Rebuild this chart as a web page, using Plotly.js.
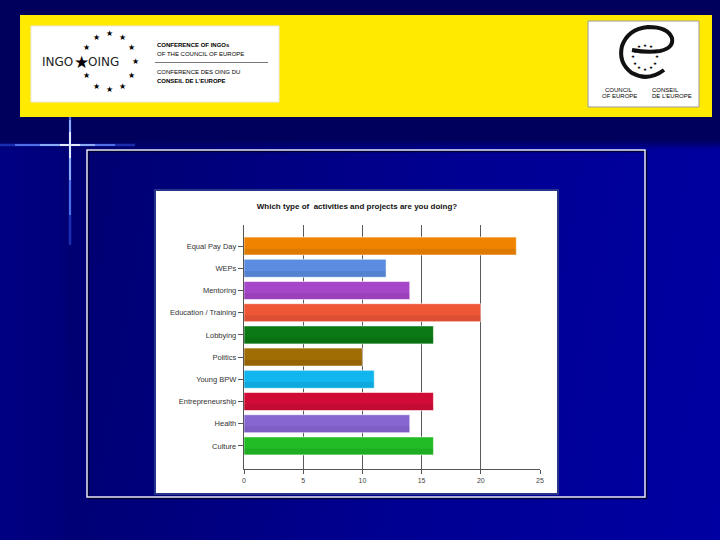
<!DOCTYPE html>
<html>
<head>
<meta charset="utf-8">
<script src="https://cdn.plot.ly/plotly-3.0.1.min.js"></script>
<style>
  html, body { margin: 0; padding: 0; }
  #slide {
    width: 720px; height: 540px; position: relative; overflow: hidden;
    background:
      linear-gradient(to bottom, #00005c 0px, #00005c 140px, rgba(0,0,90,0) 150px),
      linear-gradient(to right, #000084 0px, #00007a 60px, rgba(0,0,0,0) 70px),
      linear-gradient(100deg, #00006a 0%, #000078 25%, #000092 60%, #0000a2 100%);
  }
  #chart { width: 720px; height: 540px; position: absolute; left: 0; top: 0; }
</style>
</head>
<body>
<div id="slide"><div id="chart"></div></div>
<script>
// ---- data ----
const categories = ['Equal Pay Day', 'WEPs', 'Mentoring', 'Education / Training', 'Lobbying',
                    'Politics', 'Young BPW', 'Entrepreneurship', 'Health', 'Culture'];
const counts = [23, 12, 14, 20, 16, 10, 11, 16, 14, 16];
const barColors = ['#f08400', '#5a8ce0', '#a646c8', '#ee5636', '#0b7a14',
                   '#a06c04', '#12b6ee', '#d00c36', '#8866d2', '#22bc24'];
const xTickValues = [0, 5, 10, 15, 20, 25];
const chartTitle = 'Which type of  activities and projects are you doing?';

// ---- helpers: pixel -> paper ----
const W = 720, H = 540;
const px = x => x / W;
const py = y => 1 - y / H;
function rect(x0, y0, x1, y1, fill, line, lw, layer) {
  return {type: 'rect', xref: 'paper', yref: 'paper', x0: px(x0), x1: px(x1), y0: py(y1), y1: py(y0),
          fillcolor: fill, line: {color: line || 'rgba(0,0,0,0)', width: lw || 0}, layer: layer || 'below'};
}
function seg(x0, y0, x1, y1, color, w) {
  return {type: 'line', xref: 'paper', yref: 'paper', x0: px(x0), x1: px(x1), y0: py(y0), y1: py(y1),
          line: {color: color, width: w}, layer: 'below'};
}
function txt(x, y, text, size, opts) {
  opts = opts || {};
  return {xref: 'paper', yref: 'paper', x: px(x), y: py(y), text: text, showarrow: false,
          xanchor: opts.xanchor || 'center', yanchor: 'middle',
          font: {family: opts.family || 'Liberation Sans, Arial, sans-serif', size: size, color: opts.color || '#000'}};
}
function pathPx(cmds) {
  return cmds.map(c => {
    const l = c[0]; const nums = [];
    for (let i = 1; i < c.length; i += 2) nums.push(px(c[i]).toFixed(5) + ',' + py(c[i + 1]).toFixed(5));
    return l + ' ' + nums.join(' ');
  }).join(' ');
}

const shapes = [];
const annotations = [];

// Yellow banner and logo boxes
shapes.push(rect(20, 15, 712, 117, '#ffea00'));
shapes.push(rect(31, 26, 279, 102, '#ffffff', '#e8e8e8', 1));
shapes.push(rect(588, 21, 699, 107, '#ffffff', '#9a9a9a', 1));
shapes.push(seg(155, 62.5, 268, 62.5, '#555555', 0.8));

// Light flare cross
shapes.push(seg(0, 145, 135, 145, 'rgba(60,100,255,0.45)', 2.5));
shapes.push(seg(15, 145, 115, 145, 'rgba(100,140,255,0.7)', 2));
shapes.push(seg(40, 145, 95, 145, 'rgba(170,200,255,0.9)', 1.5));
shapes.push(seg(60, 145, 80, 145, '#ffffff', 1.5));
shapes.push(seg(70, 117, 70, 245, 'rgba(60,100,255,0.45)', 2.5));
shapes.push(seg(70, 117, 70, 215, 'rgba(100,140,255,0.7)', 2));
shapes.push(seg(70, 120, 70, 180, 'rgba(170,200,255,0.9)', 1.5));
shapes.push(seg(70, 132, 70, 158, '#ffffff', 1.5));

// Outer white frame (with dark shadow) and chart panel
shapes.push(rect(88.5, 151.5, 646.5, 498.5, 'rgba(0,0,0,0)', 'rgba(0,0,30,0.8)', 1.5));
shapes.push(rect(87, 150, 645, 497, 'rgba(0,0,0,0)', '#e6e6f0', 1.5));
shapes.push(rect(155, 190, 558, 494, '#ffffff', '#26348a', 2));

// INGO logo: ring of stars
const ringCx = 109.3, ringCy = 61.7, ringR = 26;
for (let k = 0; k < 12; k++) {
  const a = k * Math.PI / 6;
  const sx = ringCx + ringR * Math.sin(a), sy = ringCy - ringR * 1.08 * Math.cos(a);
  if (k === 9) {
    annotations.push(txt(81, 62, '★', 17, {family: 'DejaVu Sans'}));
  } else {
    annotations.push(txt(sx, sy, '★', 8, {family: 'DejaVu Sans'}));
  }
}
annotations.push(txt(75, 62.5, 'INGO', 12, {xanchor: 'right', family: 'DejaVu Sans, sans-serif', color: '#222'}));
annotations.push(txt(86, 62.5, 'OING', 12, {xanchor: 'left', family: 'DejaVu Sans, sans-serif', color: '#222'}));
annotations.push(txt(155, 45, '<b>CONFERENCE OF INGOs</b>', 6, {xanchor: 'left'}));
annotations.push(txt(155, 54, 'OF THE COUNCIL OF EUROPE', 6, {xanchor: 'left'}));
annotations.push(txt(155, 71.5, 'CONFERENCE DES OING DU', 6, {xanchor: 'left'}));
annotations.push(txt(155, 80.5, '<b>CONSEIL DE L\u2019EUROPE</b>', 6, {xanchor: 'left'}));

// Council of Europe logo: stylised "e" swirl with ring of stars
shapes.push({type: 'path', xref: 'paper', yref: 'paper', layer: 'below',
  path: pathPx([['M', 664, 70], ['Q', 648, 82, 632, 73], ['Q', 618, 63, 622, 46], ['Q', 628, 29, 648, 27],
                ['Q', 668, 27, 672, 38], ['Q', 674, 48, 660, 51], ['Q', 648, 53, 632, 50]]),
  line: {color: '#111', width: 4}, fillcolor: 'rgba(0,0,0,0)'});
for (let k = 0; k < 12; k++) {
  const a = k * Math.PI / 6;
  annotations.push(txt(645 + 12 * Math.sin(a), 57 - 12 * Math.cos(a), '★', 4.5, {family: 'DejaVu Sans'}));
}
annotations.push(txt(619, 90, 'COUNCIL', 6));
annotations.push(txt(619, 96, 'OF EUROPE', 6));
annotations.push(txt(650, 90, 'CONSEIL', 6, {xanchor: 'left'}));
annotations.push(txt(650, 96, 'DE L\u2019EUROPE', 6, {xanchor: 'left'}));

// ---- bar traces (main bars plus a soft lower shade for the glossy look) ----
const traces = [
  {type: 'bar', orientation: 'h', x: counts, y: categories, width: 0.81,
   marker: {color: barColors, line: {color: 'rgba(255,255,255,0.55)', width: 1}},
   hovertemplate: '%{y}: %{x}<extra></extra>'},
  {type: 'bar', orientation: 'h', x: counts, y: categories, width: 0.26, offset: 0.12,
   marker: {color: 'rgba(0,0,0,0.07)', line: {width: 0}}, hoverinfo: 'skip'}
];

const layout = {
  width: W, height: H,
  margin: {l: 0, r: 0, t: 0, b: 0, pad: 0},
  paper_bgcolor: 'rgba(0,0,0,0)',
  plot_bgcolor: 'rgba(0,0,0,0)',
  showlegend: false,
  barmode: 'overlay',
  title: {text: '<b>' + chartTitle + '</b>', x: px(357), y: py(206), xanchor: 'center', yanchor: 'middle',
          font: {family: 'Liberation Sans, Arial, sans-serif', size: 8, color: '#111'}},
  xaxis: {domain: [px(244), px(540)], range: [0, 25], tickvals: xTickValues,
          ticks: 'outside', ticklen: 4, tickcolor: '#555', tickwidth: 1,
          showline: true, linecolor: '#555', linewidth: 1.2,
          showgrid: true, gridcolor: '#5a5a5a', gridwidth: 1.2, zeroline: false,
          tickfont: {family: 'Liberation Sans Narrow, Liberation Sans, Arial, sans-serif', size: 7, color: '#444'},
          fixedrange: true},
  yaxis: {domain: [py(469), py(225)], type: 'category', categoryorder: 'array', categoryarray: categories,
          range: [10.04, -0.95], ticks: 'outside', ticklen: 5, tickcolor: '#555', tickwidth: 1,
          showline: true, linecolor: '#555', linewidth: 1.2, showgrid: false, zeroline: false,
          tickfont: {family: 'Liberation Sans Narrow, Liberation Sans, Arial, sans-serif', size: 7.5, color: '#333'},
          fixedrange: true},
  shapes: shapes,
  annotations: annotations
};

Plotly.newPlot('chart', traces, layout, {staticPlot: true, displayModeBar: false});
</script>
</body>
</html>
